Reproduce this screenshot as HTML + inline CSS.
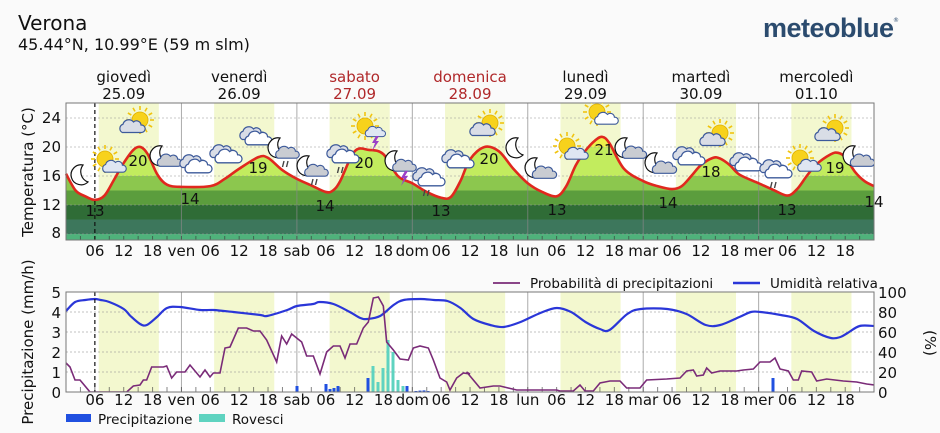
<!DOCTYPE html>
<html><head><meta charset="utf-8"><style>
html,body{margin:0;padding:0;background:#fafafa;}
svg{display:block;font-family:"DejaVu Sans","Liberation Sans",sans-serif;}
</style></head><body>
<svg id="s" width="940" height="433" viewBox="0 0 940 433" xmlns="http://www.w3.org/2000/svg">
<rect width="940" height="433" fill="#fafafa"/>
<text x="18" y="30" font-size="20" fill="#111">Verona</text>
<text x="18" y="50" font-size="16" fill="#111">45.44°N, 10.99°E (59 m slm)</text>
<text x="763" y="37" font-size="27" font-weight="bold" fill="#2b4b6e" font-family="Liberation Sans, sans-serif" letter-spacing="-0.5">meteoblue</text>
<text x="893" y="22" font-size="6" fill="#2b4b6e">®</text>
<g id="hdr" font-size="15" text-anchor="middle"></g>
<defs>
<clipPath id="under"><path id="underp"/></clipPath>
<clipPath id="top"><rect x="66" y="103" width="808" height="137"/></clipPath>
<clipPath id="bot"><rect x="66" y="292" width="808" height="100"/></clipPath>
</defs>
<g id="topg"></g>
<g id="botg"></g>
</svg>
<script>
var NS="http://www.w3.org/2000/svg";
function X(h){return 66+h*4.81;}
function el(p,t,a,txt){var e=document.createElementNS(NS,t);for(var k in a)e.setAttribute(k,a[k]);if(txt!==undefined)e.textContent=txt;p.appendChild(e);return e;}
var svg=document.getElementById('s');
var hdr=document.getElementById('hdr');
var names=["giovedì","venerdì","sabato","domenica","lunedì","martedì","mercoledì"];
var dates=["25.09","26.09","27.09","28.09","29.09","30.09","01.10"];
for(var i=0;i<7;i++){var c=X(i*24+12),col=(i==2||i==3)?"#b0282a":"#111";
el(hdr,'text',{x:c,y:82,fill:col},names[i]);el(hdr,'text',{x:c,y:99,fill:col},dates[i]);}
function smooth(pts){var d="M"+pts[0][0]+","+pts[0][1];for(var i=0;i<pts.length-1;i++){var p0=pts[i-1]||pts[i],p1=pts[i],p2=pts[i+1],p3=pts[i+2]||p2;
d+=" C"+(p1[0]+(p2[0]-p0[0])/6)+","+(p1[1]+(p2[1]-p0[1])/6)+" "+(p2[0]-(p3[0]-p1[0])/6)+","+(p2[1]-(p3[1]-p1[1])/6)+" "+p2[0]+","+p2[1];}return d;}
function lin(pts){return "M"+pts.map(function(p){return p[0]+","+p[1]}).join(" L");}
var T=document.getElementById('topg');
function YT(t){return 147+(20-t)*7.25;}
el(T,'rect',{x:66,y:103,width:808,height:137,fill:"#fff"});
for(var d=0;d<7;d++)el(T,'rect',{x:X(d*24+6.8),y:103,width:X(19.3)-X(6.8),height:137,fill:"#f3f8cf"});
var temp=[[0,16.3],[2,14],[4,13.2],[6,12.7],[8,13.3],[10,15.5],[12,17.8],[14,19.6],[15.5,20],[17,19],[19,16.2],[21,14.8],[24,14.5],[30,14.6],[33,15.6],[36,17],[40,18.6],[42,18.5],[45,16.8],[48,15.6],[51,14.7],[54,13.8],[55.5,14],[57,15.3],[60,19.4],[63,19.6],[66,19],[69,16],[72,15],[75,13.8],[78,13],[80,13.1],[82,15.3],[84,18.3],[87,20],[90,19.4],[93,17],[96,15],[99,13.8],[102,13.2],[104,14.6],[106,17.5],[108,19.5],[110,20.9],[111.5,21.4],[113,20.5],[116,17],[120,15.3],[123,14.6],[126,14.2],[128,14.6],[130,16],[132,17.5],[134.5,18.5],[136,18.4],[138,17.5],[140,16.2],[144,15],[147,14.1],[150,13.3],[152,14.2],[154,16],[156,17.6],[159,19],[160.5,19.2],[162,18.6],[164,16.6],[166,15.3],[168,14.6]];
var tp=temp.map(function(p){return[X(p[0]),YT(p[1])]});
var cd=smooth(tp);
document.getElementById('underp').setAttribute('d',cd+" L874,240 L66,240 Z");
var bands=[[24,20,"#eef04a"],[20,16,"#c2ec5e"],[16,14,"#8cc74e"],[14,12,"#5b9d3d"],[12,10,"#2f6c36"],[10,8,"#3d775c"],[8,6,"#4fb27b"]];
var bg=el(T,'g',{'clip-path':"url(#under)"});
bands.forEach(function(b){el(bg,'rect',{x:66,y:YT(b[0]),width:808,height:YT(b[1])-YT(b[0]),fill:b[2]});});
[24,20,16,12,8].forEach(function(t){el(T,'line',{x1:66,x2:874,y1:YT(t),y2:YT(t),stroke:"#999","stroke-dasharray":"2,2","stroke-width":0.7,opacity:0.7});});
for(var d=1;d<7;d++)el(T,'line',{x1:X(d*24),x2:X(d*24),y1:103,y2:240,stroke:"#888","stroke-width":1,opacity:0.7});
for(var h=3;h<168;h+=3)el(T,'line',{x1:X(h),x2:X(h),y1:236,y2:240,stroke:"#333","stroke-width":1,opacity:0.6});
el(T,'path',{d:cd,fill:"none",stroke:"#e0281e","stroke-width":2.6});
el(T,'line',{x1:X(6),x2:X(6),y1:103,y2:240,stroke:"#111","stroke-dasharray":"4,3","stroke-width":1.2});
el(T,'rect',{x:66,y:103,width:808,height:137,fill:"none",stroke:"#777","stroke-width":1});
[[24,118],[20,147],[16,176],[12,205],[8,233]].forEach(function(a){el(T,'text',{x:61,y:a[1]+5,'font-size':15,'text-anchor':"end",fill:"#111"},a[0]);});
el(T,'text',{x:0,y:0,'font-size':15,'text-anchor':"middle",transform:"translate(33,172) rotate(-90)",fill:"#111"},"Temperatura (°C)");
var labs=[[95,210,13],[138,160,20],[190,198,14],[258,167,19],[325,205,14],[364,162,20],[441,210,13],[489,158,20],[557,209,13],[604,149,21],[668,202,14],[711,171,18],[787,209,13],[835,167,19],[874,201,14]];
labs.forEach(function(l){el(T,'text',{x:l[0],y:l[1]+6,'font-size':15,'text-anchor':"middle",fill:"#111"},l[2]);});
var dn=["ven","sab","dom","lun","mar","mer"];
function xlabels(g,y){for(var d=0;d<7;d++){[6,12,18].forEach(function(h){el(g,'text',{x:X(d*24+h),y:y,'font-size':15,'text-anchor':"middle",fill:"#111"},(h<10?"0":"")+h);});if(d>0)el(g,'text',{x:X(d*24),y:y,'font-size':15,'text-anchor':"middle",fill:"#111"},dn[d-1]);}}
xlabels(T,256);
function cloud(g,x,y,s,fill){var gg=el(g,'g',{transform:"translate("+x+","+y+") scale("+s+")"});
el(gg,'path',{d:"M-13,6 a6,6 0 0 1 1,-11 a8,8 0 0 1 14,-3 a6,6 0 0 1 10,4 a5,5 0 0 1 1,10 Z",fill:fill||"#d9dde6",stroke:"#3d5a9a","stroke-width":1.6});return gg;}
function sun(g,x,y,r){for(var a=0;a<360;a+=30){var rd=a*Math.PI/180;el(g,'line',{x1:x+Math.cos(rd)*(r+2),y1:y+Math.sin(rd)*(r+2),x2:x+Math.cos(rd)*(r+6),y2:y+Math.sin(rd)*(r+6),stroke:"#f1c40f","stroke-width":1.6});}
el(g,'circle',{cx:x,cy:y,r:r,fill:"#f7d21c",stroke:"#e0b000","stroke-width":0.8});}
function moon(g,x,y){el(g,'path',{d:"M"+(x+3)+","+(y-10)+" a10,10 0 1 0 5,17 a11,11 0 0 1 -5,-17 Z",fill:"#fff",stroke:"#111","stroke-width":1.2});}
function rain(g,x,y){el(g,'path',{d:"M"+(x-3)+","+y+" l-1.5,6 M"+(x+1)+","+y+" l-1.5,6",stroke:"#444","stroke-width":1.4});}
function bolt(g,x,y){el(g,'path',{d:"M"+x+","+y+" l-4,7 h3 l-3,8 l7,-10 h-3 l3,-5 Z",fill:"#9b3fc8"});}
var I=el(T,'g',{'clip-path':"url(#top)"});
var icons=[["m",80,175],["sc",108,163],["SC",135,125],["mc",165,158],["c",195,165],["c",225,155],["c",255,137],["mcr",283,150],["mcr",312,168],["cr",342,155],["sct",368,130],["mct",400,163],["cr",428,178],["c",457,160],["SC",485,128],["m",515,148],["mc",540,170],["sc",570,150],["SC2",600,115],["mc",630,150],["mc",660,165],["c",688,157],["SC",715,138],["c",745,163],["cr",775,170],["sc",803,162],["SC",830,133],["mc",858,158]];
icons.forEach(function(ic){var t=ic[0],x=ic[1],y=ic[2];
if(t=="m"){moon(I,x,y);}
else if(t=="sc"){sun(I,x-3,y-4,8);cloud(I,x+6,y+5,0.7,"#dfe6f2");}
else if(t=="SC"){sun(I,x+5,y-5,8);cloud(I,x-3,y+3,0.75);}
else if(t=="SC2"){sun(I,x-3,y-3,8);cloud(I,x+6,y+5,0.7,"#fff");}
else if(t=="mc"){moon(I,x-6,y-2);cloud(I,x+4,y+4,0.72,"#c9ccd2");}
else if(t=="c"){cloud(I,x-3,y-2,0.75,"#d9dde6");cloud(I,x+3,y+3,0.8,"#fff");}
else if(t=="mcr"){moon(I,x-6,y-2);cloud(I,x+4,y+4,0.7,"#c9ccd2");rain(I,x+4,y+11);}
else if(t=="cr"){cloud(I,x-3,y-2,0.75,"#d9dde6");cloud(I,x+3,y+3,0.8,"#fff");rain(I,x,y+12);}
else if(t=="sct"){sun(I,x-3,y-4,8);cloud(I,x+7,y+3,0.6,"#dfe6f2");bolt(I,x+8,y+6);}
else if(t=="mct"){moon(I,x-6,y-2);cloud(I,x+4,y+4,0.7,"#c9ccd2");bolt(I,x+5,y+8);}
});
var B=document.getElementById('botg');
function YP(p){return 392-p;}
el(B,'rect',{x:66,y:292,width:808,height:100,fill:"#fff"});
for(var d=0;d<7;d++)el(B,'rect',{x:X(d*24+6.8),y:292,width:X(19.3)-X(6.8),height:100,fill:"#f3f8cf"});
[20,40,60,80].forEach(function(p){el(B,'line',{x1:66,x2:874,y1:YP(p),y2:YP(p),stroke:"#999","stroke-dasharray":"2,2","stroke-width":0.7,opacity:0.8});});
for(var d=1;d<7;d++)el(B,'line',{x1:X(d*24),x2:X(d*24),y1:292,y2:392,stroke:"#888","stroke-width":1,opacity:0.7});
for(var h=3;h<168;h+=3)el(B,'line',{x1:X(h),x2:X(h),y1:387,y2:392,stroke:"#333","stroke-width":1,opacity:0.6});
var bars=[[297,0.3,"b"],[326,0.4,"b"],[330,0.15,"b"],[334,0.2,"b"],[338,0.3,"b"],[368,0.7,"b"],[373,1.3,"t"],[378,0.5,"t"],[383,1.2,"t"],[388,2.6,"t"],[393,2.0,"t"],[398,0.6,"t"],[403,0.3,"t"],[407,0.3,"b"],[416,0.05,"b"],[420,0.07,"b"],[424,0.08,"b"],[428,0.05,"b"],[773,0.7,"b"]];
bars.forEach(function(b){el(B,'rect',{x:b[0]-1.5,y:392-b[1]*20,width:3,height:b[1]*20,fill:b[2]=="b"?"#2050e0":"#5fd3c0"});});
var hum=[[0,81],[1.9,90],[4,92],[6,93],[7.2,92],[9,90],[12,83],[13.4,76],[15.4,68],[16.8,67],[18.9,75],[21,84],[23.7,85],[27.9,82],[30.7,82],[34.8,80],[40.4,77],[41.8,76],[46,82],[48,86],[51.4,88],[52.7,90],[55.6,88],[59,80],[61.2,74],[62.6,73],[65.3,76],[68.1,87],[70.2,92],[73.7,93],[76.5,92],[79.3,91],[82,84],[84.7,73],[88.2,67],[91,65],[94.5,70],[98.6,79],[102,84],[105,80],[108,70],[111,63],[113,62],[116.7,78],[119.5,83],[125,83],[129,78],[133,67],[136,67],[140,75],[142.4,80],[144.4,80],[148.6,77],[152,73],[155.5,61],[159,54],[161,55],[162.5,59],[165,66],[168,66]];
el(B,'path',{d:smooth(hum.map(function(p){return[X(p[0]),YP(p[1])]})),fill:"none",stroke:"#2a36d8","stroke-width":2.2,'clip-path':"url(#bot)"});
var pm=[[198,1.45],[210,1.25],[225,0.6],[240,0.6],[270,0],[380,0],[400,0.3],[420,0.35],[430,0.6],[440,0.6],[455,1.25],[490,1.25],[500,1.3],[515,0.7],[530,1.0],[555,1.0],[570,1.35],[600,0.75],[615,1.1],[630,0.75],[640,0.95],[660,0.95],[675,2.2],[690,2.25],[715,3.2],[740,3.2],[760,3.05],[780,3.05],[800,2.6],[830,1.5],[845,2.8],[860,2.4],[875,2.9],[905,2.5],[920,1.8],[940,1.8],[960,0.9],[980,2.0],[1000,2.3],[1020,2.3],[1035,1.7],[1050,2.4],[1070,2.4],[1090,3.2],[1105,3.5],[1120,4.7],[1135,4.75],[1150,4.3],[1160,2.5],[1180,2.1],[1200,1.65],[1225,1.6],[1240,2.2],[1260,2.3],[1285,2.2],[1300,1.6],[1320,0.7],[1340,0.5],[1350,0.1],[1370,0.7],[1390,0.95],[1410,0.9]];
var pr=[[20,20],[60,4],[100,6],[120,6],[170,2],[290,2],[300,1],[340,1],[360,7],[375,1],[400,1],[420,9],[450,11],[480,11],[500,4],[540,4],[560,12],[620,13],[660,14],[680,21],[700,22],[710,16],[730,17],[740,24],[755,19],[780,21],[830,21],[850,22],[880,23],[900,30],[930,30],[945,34],[960,23],[985,21],[1000,12],[1015,12],[1025,21],[1055,20],[1070,11],[1100,13],[1150,11],[1190,10],[1220,8],[1243,7]];
var pp=pm.map(function(p){return[p[0]/3,YP(p[1]*20)]}).concat(pr.map(function(p){return[460+p[0]/3,YP(p[1])]}));
el(B,'path',{d:lin(pp),fill:"none",stroke:"#7a2b78","stroke-width":1.6,'clip-path':"url(#bot)"});
el(B,'line',{x1:X(6),x2:X(6),y1:292,y2:392,stroke:"#111","stroke-dasharray":"4,3","stroke-width":1.2});
el(B,'rect',{x:66,y:292,width:808,height:100,fill:"none",stroke:"#777","stroke-width":1});
for(var m=0;m<=5;m++)el(B,'text',{x:61,y:YP(m*20)+6,'font-size':15,'text-anchor':"end",fill:"#111"},m);
for(var p=0;p<=100;p+=20)el(B,'text',{x:878,y:YP(p)+6,'font-size':15,fill:"#111"},p);
el(B,'text',{x:0,y:0,'font-size':15,'text-anchor':"middle",transform:"translate(33,342) rotate(-90)",fill:"#111"},"Precipitazione (mm/h)");
el(B,'text',{x:0,y:0,'font-size':15,'text-anchor':"middle",transform:"translate(925,343) rotate(90)",fill:"#111"},"(%)");
xlabels(B,405);
el(B,'line',{x1:493,x2:520,y1:283,y2:283,stroke:"#7a2b78","stroke-width":1.8});
el(B,'text',{x:530,y:288,'font-size':13.5,fill:"#111"},"Probabilità di precipitazioni");
el(B,'line',{x1:733,x2:760,y1:283,y2:283,stroke:"#2a36d8","stroke-width":2.4});
el(B,'text',{x:770,y:288,'font-size':13.5,fill:"#111"},"Umidità relativa");
el(B,'rect',{x:66,y:414,width:25,height:8,fill:"#2050e0"});
el(B,'text',{x:98,y:424,'font-size':13.5,fill:"#111"},"Precipitazione");
el(B,'rect',{x:199,y:414,width:26,height:8,fill:"#5fd3c0"});
el(B,'text',{x:232,y:424,'font-size':13.5,fill:"#111"},"Rovesci");
</script>
</body></html>
